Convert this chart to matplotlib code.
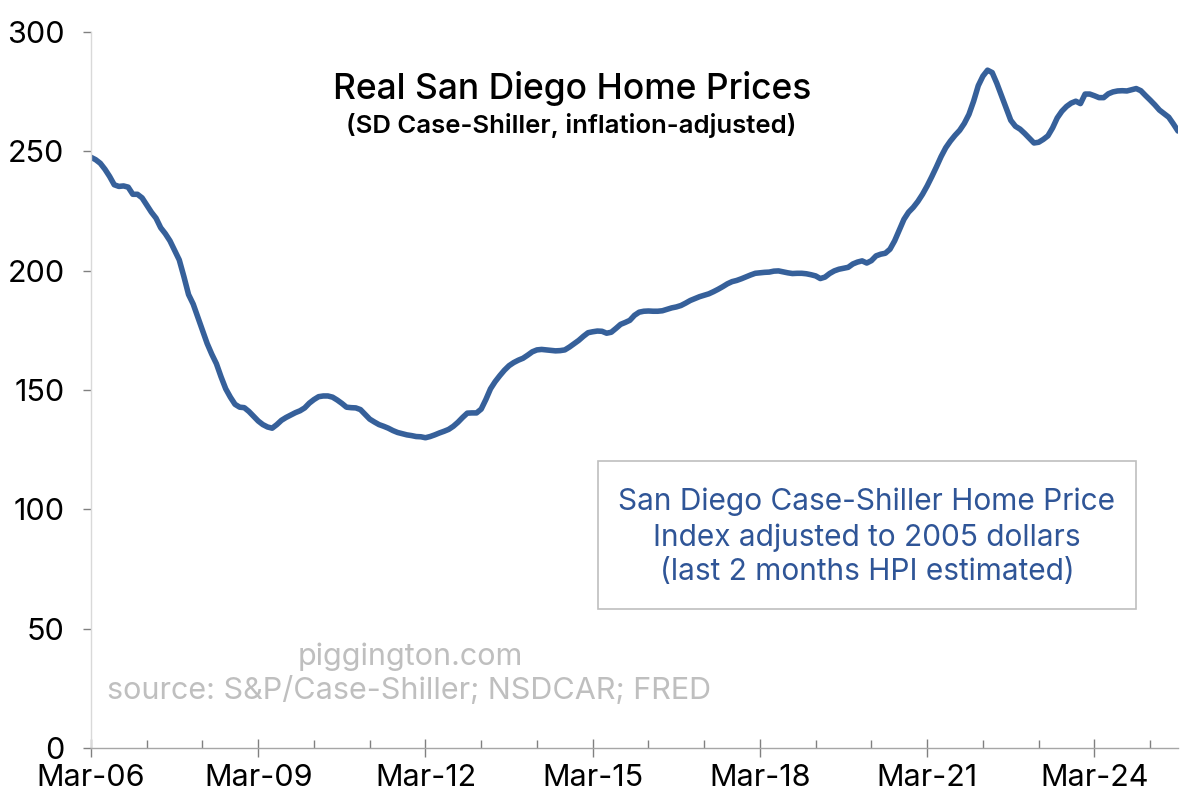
import matplotlib

matplotlib.use("Agg")
import matplotlib.pyplot as plt
from matplotlib.patches import FancyBboxPatch

plt.rcParams["font.family"] = ["Inter", "DejaVu Sans"]

# monthly real index, Mar-06 .. Sep-25 (one row per Mar..Feb year)
values = [
    247.5, 246.5, 245.0, 242.5, 239.5, 236.0, 235.3, 235.5, 235.0, 232.0, 232.0, 230.5,
    227.5, 224.5, 222.0, 218.0, 215.5, 212.5, 208.5, 204.5, 197.5, 190.0, 186.0, 180.5,
    175.0, 169.5, 165.0, 161.0, 155.5, 150.5, 147.0, 144.0, 142.8, 142.6, 141.0, 139.0,
    137.0, 135.5, 134.5, 134.0, 135.5, 137.3, 138.5, 139.5, 140.5, 141.3, 142.5, 144.5,
    146.0, 147.2, 147.5, 147.5, 147.0, 145.8, 144.4, 142.8, 142.6, 142.5, 141.8, 139.8,
    137.8, 136.6, 135.5, 134.8, 134.0, 133.0, 132.2, 131.7, 131.2, 130.9, 130.5, 130.4,
    130.0, 130.5, 131.2, 132.0, 132.7, 133.5, 134.8, 136.5, 138.5, 140.3, 140.4, 140.4,
    142.0, 146.0, 150.5, 153.5, 156.0, 158.3, 160.2, 161.5, 162.5, 163.3, 164.6, 166.0,
    166.8, 167.0, 166.8, 166.6, 166.4, 166.5, 166.8, 168.0, 169.4, 170.8, 172.5, 174.0,
    174.4, 174.7, 174.6, 173.8, 174.2, 175.8, 177.5, 178.3, 179.2, 181.3, 182.6, 183.0,
    183.1, 183.0, 183.0, 183.2, 183.8, 184.4, 184.8, 185.4, 186.4, 187.5, 188.3, 189.1,
    189.7, 190.3, 191.2, 192.2, 193.3, 194.5, 195.4, 195.9, 196.6, 197.4, 198.2, 198.9,
    199.1, 199.3, 199.4, 199.8, 199.9, 199.5, 199.1, 198.8, 198.9, 198.9, 198.7, 198.3,
    197.8, 196.7, 197.3, 198.8, 199.9, 200.6, 201.0, 201.4, 202.8, 203.6, 204.1, 203.2,
    204.2, 206.2, 206.9, 207.3, 209.0, 212.5, 217.0, 221.5, 224.5, 226.5, 229.0, 232.0,
    235.5, 239.4, 243.5, 247.8, 251.5, 254.3, 256.7, 258.8, 261.7, 265.5, 271.0, 277.5,
    281.5, 284.0, 283.0, 278.5, 273.3, 268.0, 263.0, 260.5, 259.3, 257.5, 255.5, 253.5,
    253.8, 255.0, 256.5, 259.8, 264.0, 266.8, 268.8, 270.2, 271.0, 270.0, 274.0, 274.0,
    273.3, 272.5, 272.5, 274.1, 274.9, 275.3, 275.4, 275.3, 275.8, 276.3, 275.4, 273.4,
    271.5, 269.5, 267.3, 265.8, 264.3, 261.5, 258.5,
]
tick_labels = ["Mar-06", "Mar-09", "Mar-12", "Mar-15", "Mar-18", "Mar-21", "Mar-24"]
y_ticks = [0, 50, 100, 150, 200, 250, 300]

months = list(range(len(values)))

fig = plt.figure(figsize=(12, 7.99), dpi=100)
ax = fig.add_axes([91 / 1200, 51 / 799, 1087 / 1200, 716 / 799])

ax.plot(months, values, color="#36609A", lw=4.0, solid_capstyle="round",
        solid_joinstyle="round")

ax.set_xlim(0, len(values) - 1)
ax.set_ylim(0, 300)

ax.set_yticks(y_ticks)
ax.set_xticks([36 * i for i in range(len(tick_labels))])
ax.set_xticklabels(tick_labels)
ax.set_xticks(range(12, len(values), 12), minor=True)

for s in ["top", "right"]:
    ax.spines[s].set_visible(False)
ax.spines["left"].set_color("#d9d9d9")
ax.spines["bottom"].set_color("#a6a6a6")
ax.spines["left"].set_linewidth(1)
ax.spines["bottom"].set_linewidth(1)

ax.tick_params(axis="y", length=6, width=1, color="#808080", pad=13,
               labelsize=22)
ax.tick_params(axis="x", which="major", direction="inout", length=13, width=1,
               color="#808080", pad=5, labelsize=22)
ax.tick_params(axis="x", which="minor", direction="in", length=6, width=1,
               color="#808080")

def fx(px):
    return px / 1200

def fy(py):
    return 1 - py / 799

fig.text(fx(572), fy(88), "Real San Diego Home Prices", ha="center", va="center",
         fontsize=25.5, fontweight="medium")
fig.text(fx(571), fy(126), "(SD Case-Shiller, inflation-adjusted)", ha="center",
         va="center", fontsize=18.5, fontweight="semibold")

box = FancyBboxPatch((fx(598), fy(609)), fx(1136 - 598), (609 - 461) / 799,
                     boxstyle="square,pad=0", transform=fig.transFigure,
                     facecolor="white", edgecolor="#bfbfbf", lw=1.2)
fig.patches.append(box)
fig.text(fx(867), fy(537), "San Diego Case-Shiller Home Price\n"
         "Index adjusted to 2005 dollars\n(last 2 months HPI estimated)",
         ha="center", va="center", fontsize=21.5, color="#2F5597",
         linespacing=1.3)

fig.text(fx(410), fy(657), "piggington.com", ha="center", va="center",
         fontsize=22, color="#bfbfbf")
fig.text(fx(409), fy(690), "source: S&P/Case-Shiller; NSDCAR; FRED", ha="center",
         va="center", fontsize=22, color="#bfbfbf")

fig.savefig("out.png", dpi=100)
